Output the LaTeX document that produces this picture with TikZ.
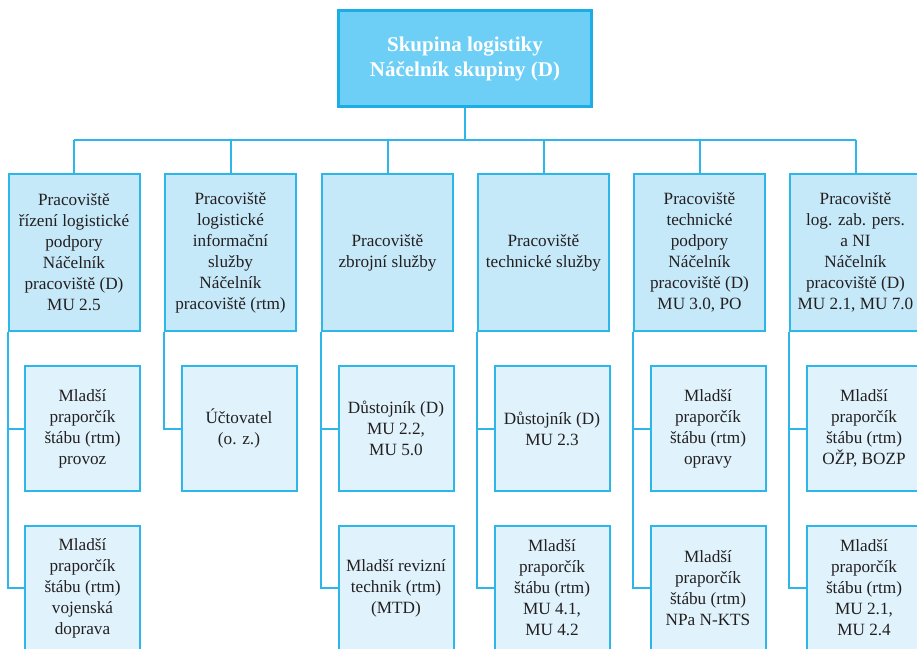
\documentclass[tikz,border=0pt]{standalone}
\usepackage{fontspec}
\setmainfont{Liberation Serif}
\definecolor{topfill}{HTML}{6ECFF6}
\definecolor{topedge}{HTML}{1BAEE6}
\definecolor{unitfill}{HTML}{C6E9F9}
\definecolor{stafffill}{HTML}{E0F3FC}
\definecolor{edgeblue}{HTML}{2DB6EA}
\definecolor{inkgray}{HTML}{231F20}
\begin{document}
\begin{tikzpicture}[x=1pt,y=-1pt,
  headbox/.style={draw=topedge, line width=3pt, fill=topfill,
    minimum width=253pt, minimum height=96pt, inner sep=0pt, align=center,
    font=\fontsize{21}{25}\selectfont\bfseries, text=white},
  unitbox/.style={draw=edgeblue, line width=2pt, fill=unitfill,
    minimum width=131pt, minimum height=157pt, inner sep=0pt, align=center,
    font=\fontsize{17.2}{21}\selectfont, text=inkgray},
  staffbox/.style={unitbox, fill=stafffill,
    minimum width=115pt, minimum height=125pt},
  link/.style={draw=edgeblue, line width=2pt}]
\useasboundingbox (0,0) rectangle (917,648);

% head of the group
\node[headbox] (head) at (465,58.5) {Skupina logistiky\\Náčelník skupiny (D)};

% workplaces
\node[unitbox] (u1) at (74,252.5) {Pracoviště\\řízení logistické\\podpory\\Náčelník\\pracoviště (D)\\MU 2.5};
\node[unitbox] (u2) at (230.5,252.5) {Pracoviště\\logistické\\informační\\služby\\Náčelník\\pracoviště (rtm)};
\node[unitbox] (u3) at (387.5,252.5) {Pracoviště\\zbrojní služby};
\node[unitbox] (u4) at (543.5,252.5) {Pracoviště\\technické služby};
\node[unitbox] (u5) at (699.5,252.5) {Pracoviště\\technické\\podpory\\Náčelník\\pracoviště (D)\\MU 3.0, PO};
\node[unitbox] (u6) at (855.5,252.5) {Pracoviště\\log. zab. pers.\\a NI\\Náčelník\\pracoviště (D)\\MU 2.1, MU 7.0};

% staff, first row
\node[staffbox] (s1a) at (82.5,428.5) {Mladší\\praporčík\\štábu (rtm)\\provoz};
\node[staffbox] (s2a) at (239,428.5) {Účtovatel\\(o. z.)};
\node[staffbox] (s3a) at (396,428.5) {Důstojník (D)\\MU 2.2,\\MU 5.0};
\node[staffbox] (s4a) at (552,428.5) {Důstojník (D)\\MU 2.3};
\node[staffbox] (s5a) at (708,428.5) {Mladší\\praporčík\\štábu (rtm)\\opravy};
\node[staffbox] (s6a) at (864,428.5) {Mladší\\praporčík\\štábu (rtm)\\OŽP, BOZP};

% staff, second row
\node[staffbox] (s1b) at (82.5,588) {Mladší\\praporčík\\štábu (rtm)\\vojenská\\doprava};
\node[staffbox] (s3b) at (396,588) {Mladší revizní\\technik (rtm)\\(MTD)};
\node[staffbox] (s4b) at (552,588) {Mladší\\praporčík\\štábu (rtm)\\MU 4.1,\\MU 4.2};
\node[staffbox] (s5b) at (708,588) {Mladší\\praporčík\\štábu (rtm)\\NPa N-KTS};
\node[staffbox] (s6b) at (864,588) {Mladší\\praporčík\\štábu (rtm)\\MU 2.1,\\MU 2.4};

% distribution bus
\coordinate (busL) at (u1.north |- 0,140);
\coordinate (busR) at (u6.north |- 0,140);
\draw[link] (busL) -- (busR);
\draw[link] (head.south) -- (head.south |- busL);
\foreach \u in {u1,u2,u3,u4,u5,u6}
  \draw[link] (\u.north) -- (\u.north |- busL);

% staff links along the left edge of each workplace
\draw[link] (u1.south west) |- (s1a.west);
\draw[link] (u1.south west) |- (s1b.west);
\draw[link] (u2.south west) |- (s2a.west);
\foreach \u/\a/\b in {u3/s3a/s3b, u4/s4a/s4b, u5/s5a/s5b, u6/s6a/s6b}{
  \draw[link] (\u.south west) |- (\a.west);
  \draw[link] (\u.south west) |- (\b.west);
}
\end{tikzpicture}
\end{document}
